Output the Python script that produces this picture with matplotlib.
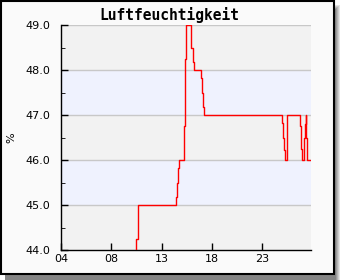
import numpy as np
import matplotlib
matplotlib.use("Agg")
import matplotlib.pyplot as plt
from matplotlib.patches import Rectangle

# Messwerte (x in Tick-Einheiten, Stufenverlauf)
zeit = [1.45, 1.498, 1.526, 1.538, 2.295, 2.314, 2.328, 2.348, 2.454, 2.474,
        2.482, 2.587, 2.633, 2.653, 2.792, 2.812, 2.832, 2.852, 4.404, 4.424,
        4.444, 4.464, 4.498, 4.756, 4.776, 4.802, 4.826, 4.846, 4.866, 4.882,
        4.896, 4.975]
feuchte = [43.5, 44.24, 44.74, 45.0, 45.17, 45.5, 45.82, 46.0, 46.75, 48.25,
           49.0, 48.5, 48.18, 48.0, 47.83, 47.5, 47.17, 47.0, 46.83, 46.5,
           46.22, 46.0, 47.0, 46.75, 46.25, 46.0, 46.5, 46.8, 47.0, 46.5,
           46.0, 46.0]
x_ticks = [0, 1, 2, 3, 4]
x_labels = ["04", "08", "13", "18", "23"]
y_ticks = [44.0, 45.0, 46.0, 47.0, 48.0, 49.0]

W, H = 340, 280
fig = plt.figure(figsize=(W / 100, H / 100), dpi=100)
fig.patch.set_facecolor("white")

# Rahmen mit Schatten
for i, c in enumerate(["#e4e4e4", "#cccccc", "#b4b4b4", "#9c9c9c", "#848484"]):
    fig.patches.append(Rectangle(((5 + i * 0) / W, 0), (W - 5 - i) / W, (H - 5 - i) / H,
                                 transform=fig.transFigure, facecolor=c,
                                 edgecolor="none", zorder=-3))
fig.patches.append(Rectangle((0.5 / W, 6.5 / H), 333.5 / W, 273 / H,
                             transform=fig.transFigure, facecolor="#fafafa",
                             edgecolor="black", linewidth=1.5, zorder=-2))

ax = fig.add_axes([61 / W, 30 / H, 250 / W, 225 / H])
ax.set_facecolor("#f2f2f2")
ax.set_xlim(0, 4.975)
ax.set_ylim(44.0, 49.0)

# abwechselnde Bänder
for lo in [45.0, 47.0]:
    ax.axhspan(lo, lo + 1, color="#eff2fe", zorder=0, linewidth=0)
for yv in y_ticks[1:]:
    ax.axhline(yv, color="#c8c8c8", linewidth=1, zorder=1)

ax.plot(zeit, feuchte, color="red", linewidth=1, drawstyle="steps-post", zorder=3)

ax.set_xticks(x_ticks)
ax.set_xticklabels(x_labels)
ax.set_yticks(y_ticks)
ax.set_yticklabels([f"{v:.1f}" for v in y_ticks])
ax.set_yticks(np.arange(44.5, 49.0, 1.0), minor=True)
ax.tick_params(axis="both", direction="in", length=5, width=1, labelsize=8,
               colors="black")
ax.tick_params(axis="y", pad=8)
ax.tick_params(axis="x", pad=3)
ax.tick_params(axis="y", which="minor", direction="in", length=3)
for s in ["top", "right"]:
    ax.spines[s].set_visible(False)
ax.spines["left"].set_linewidth(1)
ax.spines["bottom"].set_linewidth(1)

ax.set_ylabel("%", fontsize=8, labelpad=6)
fig.text(169 / W, 1 - 15 / H, "Luftfeuchtigkeit", ha="center", va="center",
         fontsize=10.5, fontweight="bold", family="DejaVu Sans Mono")

fig.savefig("out.png", dpi=100)
